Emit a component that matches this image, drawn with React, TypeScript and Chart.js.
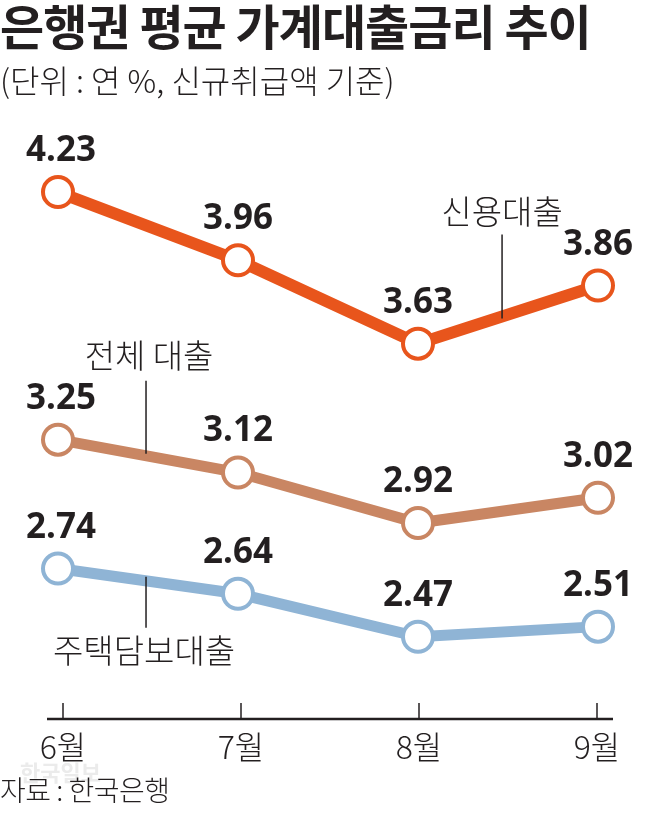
import React, { useEffect, useRef } from "react";
import { Chart, registerables } from "chart.js";

Chart.register(...registerables);

const months = ["6월", "7월", "8월", "9월"];
const creditLoan = [4.23, 3.96, 3.63, 3.86];
const totalLoan = [3.25, 3.12, 2.92, 3.02];
const mortgage = [2.74, 2.64, 2.47, 2.51];
const seriesNames = ["신용대출", "전체 대출", "주택담보대출"];
const seriesColors = ["#e8551c", "#c98663", "#8fb4d5"];
const yMin = 2.0;
const yMax = 4.5;

const TEXT = "#231f20";
const KR = '"Noto Sans CJK KR", "Noto Sans", sans-serif';
const NUM = '"Noto Sans", "Noto Sans CJK KR", sans-serif';

// annotation placement for series name labels (segment index, fraction along segment, offsets)
const seriesNotes = [
  { seg: 2, frac: 0.467, textDx: 0, textDy: -105, lineTop: -82, lineBottom: 2 },
  { seg: 0, frac: 0.489, textDx: 3, textDy: -100, lineTop: -75, lineBottom: -2 },
  { seg: 0, frac: 0.489, textDx: -2, textDy: 70, lineTop: -4, lineBottom: 47 },
];

const overlayPlugin = {
  id: "overlay",
  afterDatasetsDraw(chart: any) {
    const ctx = chart.ctx as CanvasRenderingContext2D;
    const xs = chart.scales.x;
    ctx.save();

    // x axis line and ticks
    const axisY = 719;
    const first = xs.getPixelForValue(0);
    const last = xs.getPixelForValue(months.length - 1);
    ctx.strokeStyle = TEXT;
    ctx.lineWidth = 2.5;
    ctx.beginPath();
    ctx.moveTo(first - 11, axisY);
    ctx.lineTo(last + 15, axisY);
    ctx.stroke();
    ctx.lineWidth = 1.5;
    months.forEach((m, i) => {
      const px = xs.getPixelForValue(i) + (i === 0 ? 5 : i === 1 ? 3 : i === 2 ? 1 : -1);
      ctx.beginPath();
      ctx.moveTo(px, axisY - 16);
      ctx.lineTo(px, axisY);
      ctx.stroke();
      ctx.fillStyle = TEXT;
      ctx.font = `300 32px ${KR}`;
      ctx.textAlign = "center";
      ctx.textBaseline = "alphabetic";
      ctx.fillText(m, px, 759);
    });

    // value labels
    chart.data.datasets.forEach((ds: any, di: number) => {
      const meta = chart.getDatasetMeta(di);
      meta.data.forEach((pt: any, i: number) => {
        ctx.fillStyle = TEXT;
        ctx.font = `700 35px ${NUM}`;
        ctx.textAlign = "center";
        ctx.textBaseline = "alphabetic";
        ctx.fillText(Number(ds.data[i]).toFixed(2), pt.x + (i === 0 ? 3 : 0), pt.y - 31);
      });
    });

    // series name labels with leader lines
    seriesNotes.forEach((n, di) => {
      const meta = chart.getDatasetMeta(di);
      const a = meta.data[n.seg];
      const b = meta.data[n.seg + 1];
      const lx = a.x + (b.x - a.x) * n.frac;
      const ly = a.y + (b.y - a.y) * n.frac;
      ctx.strokeStyle = TEXT;
      ctx.lineWidth = 1.5;
      ctx.beginPath();
      ctx.moveTo(lx, ly + n.lineTop);
      ctx.lineTo(lx, ly + n.lineBottom);
      ctx.stroke();
      ctx.fillStyle = TEXT;
      ctx.font = `300 33px ${KR}`;
      ctx.textAlign = "center";
      ctx.textBaseline = "alphabetic";
      ctx.fillText(seriesNames[di], lx + n.textDx, ly + n.textDy + 12.5);
    });

    ctx.restore();
  },
};

export default function App() {
  const ref = useRef<HTMLCanvasElement | null>(null);

  useEffect(() => {
    if (!ref.current) return;
    const series = [creditLoan, totalLoan, mortgage];
    const chart = new Chart(ref.current, {
      type: "line",
      data: {
        labels: months,
        datasets: series.map((d, i) => ({
          label: seriesNames[i],
          data: d,
          borderColor: seriesColors[i],
          borderWidth: i === 0 ? 12 : 11,
          pointRadius: 15,
          pointHoverRadius: 15,
          pointBorderWidth: 4,
          pointBackgroundColor: "#ffffff",
          pointBorderColor: seriesColors[i],
          tension: 0,
          clip: false as any,
        })),
      },
      options: {
        responsive: false,
        animation: false,
        devicePixelRatio: 1,
        layout: { padding: { left: 58, right: 63, top: 123.8, bottom: 58.5 } },
        plugins: {
          legend: { display: false },
          tooltip: { enabled: false },
          title: { display: false },
        },
        scales: {
          x: { type: "category", display: false, offset: false },
          y: { type: "linear", display: false, min: yMin, max: yMax },
        },
        events: [],
      },
      plugins: [overlayPlugin],
    });
    return () => chart.destroy();
  }, []);

  return (
    <div
      style={{
        position: "fixed",
        left: 0,
        top: 0,
        width: 661,
        height: 814,
        background: "#ffffff",
        overflow: "hidden",
      }}
    >
      <canvas
        ref={ref}
        width={661}
        height={814}
        style={{ position: "absolute", left: 0, top: 0, width: 661, height: 814 }}
      />
      <div
        style={{
          position: "absolute",
          left: 0,
          top: 0,
          fontFamily: KR,
          fontSize: 48,
          fontWeight: 700,
          lineHeight: "48px",
          letterSpacing: "-1px",
          color: TEXT,
          whiteSpace: "nowrap",
        }}
      >
        은행권 평균 가계대출금리 추이
      </div>
      <div
        style={{
          position: "absolute",
          left: 0,
          top: 63,
          fontFamily: KR,
          fontSize: 32,
          fontWeight: 300,
          lineHeight: "32px",
          letterSpacing: "0px",
          color: TEXT,
          whiteSpace: "nowrap",
        }}
      >
        (단위 : 연 %, 신규취급액 기준)
      </div>
      <div
        style={{
          position: "absolute",
          left: 20,
          top: 760,
          fontFamily: KR,
          fontSize: 22,
          fontWeight: 700,
          lineHeight: "22px",
          color: "#ebebeb",
          whiteSpace: "nowrap",
        }}
      >
        한국일보
      </div>
      <div
        style={{
          position: "absolute",
          left: 0,
          top: 775,
          fontFamily: KR,
          fontSize: 28,
          fontWeight: 300,
          lineHeight: "28px",
          letterSpacing: "-0.5px",
          color: TEXT,
          whiteSpace: "nowrap",
        }}
      >
        자료 : 한국은행
      </div>
    </div>
  );
}
